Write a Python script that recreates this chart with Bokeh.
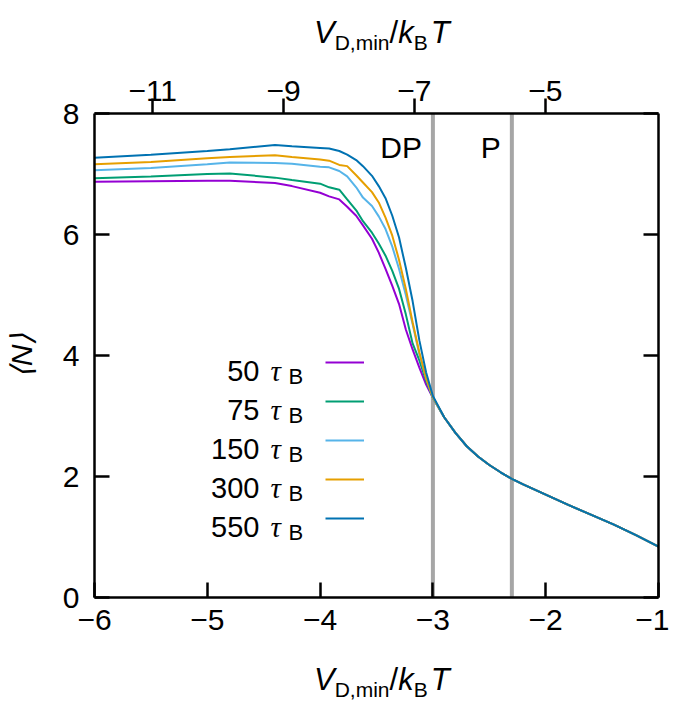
from bokeh.plotting import figure
from bokeh.models import (Range1d, LinearAxis, FixedTicker, Span, Label, Legend,
                          LegendItem, CustomJSTickFormatter, Div)
from bokeh.layouts import column
from bokeh.embed import file_html
from bokeh.resources import INLINE

# ---------------- data ----------------
x_head = [-6.0, -5.5, -5.0, -4.8, -4.4, -4.25, -4.0, -3.92, -3.83, -3.76, -3.68,
          -3.62, -3.54, -3.48, -3.42, -3.36, -3.30, -3.24, -3.18, -3.12, -3.06, -3.0]
n_050 = [6.87, 6.88, 6.89, 6.89, 6.85, 6.80, 6.69, 6.63, 6.58, 6.46, 6.31,
         6.15, 5.93, 5.70, 5.43, 5.15, 4.85, 4.43, 4.10, 3.80, 3.52, 3.30]
n_075 = [6.93, 6.96, 7.00, 7.01, 6.94, 6.90, 6.84, 6.78, 6.74, 6.58, 6.40,
         6.22, 6.03, 5.85, 5.65, 5.40, 5.10, 4.68, 4.20, 3.92, 3.58, 3.30]
n_150 = [7.06, 7.10, 7.16, 7.19, 7.18, 7.17, 7.12, 7.11, 7.05, 6.96, 6.78,
         6.61, 6.47, 6.30, 6.09, 5.80, 5.43, 5.00, 4.52, 4.02, 3.62, 3.30]
n_300 = [7.16, 7.20, 7.26, 7.28, 7.31, 7.28, 7.24, 7.22, 7.15, 7.13, 6.98,
         6.86, 6.70, 6.53, 6.28, 5.98, 5.58, 5.10, 4.55, 4.05, 3.62, 3.31]
n_550 = [7.27, 7.32, 7.38, 7.41, 7.48, 7.46, 7.43, 7.42, 7.38, 7.32, 7.23,
         7.13, 6.97, 6.80, 6.60, 6.31, 5.95, 5.45, 4.90, 4.25, 3.72, 3.33]
# common tail where all curves coincide
x_tail = [-2.9, -2.8, -2.7, -2.6, -2.5, -2.4, -2.3, -2.2, -2.0, -1.8, -1.6, -1.4, -1.2, -1.0]
n_tail = [2.98, 2.72, 2.50, 2.33, 2.19, 2.07, 1.96, 1.87, 1.70, 1.53, 1.37, 1.21, 1.03, 0.84]

series_values = [n_050, n_075, n_150, n_300, n_550]
series_labels = ["50", "75", "150", "300", "550"]
series_colors = ["#9400d3", "#009e73", "#56b4e9", "#e69f00", "#0072b2"]

bottom_ticks = [-6, -5, -4, -3, -2, -1]
top_ticks = [-11, -9, -7, -5]
y_ticks = [0, 2, 4, 6, 8]
top_range = (-11.89, -3.27)
phase_bounds = [-3.0, -2.3]
phase_names = ["DP", "P"]
phase_label_y = 7.44

FONT = "Liberation Sans"
TICK_FS = 30
LEG_FS = 29

# ---------------- figure ----------------
p = figure(width=669, height=587, x_range=Range1d(-6, -1), y_range=Range1d(0, 8),
           output_backend="svg", toolbar_location=None,
           x_axis_location=None, y_axis_location=None,
           min_border_left=94, min_border_right=11, min_border_top=53, min_border_bottom=50)
p.outline_line_color = None
p.grid.visible = False
p.background_fill_color = "white"
p.border_fill_color = "white"

fmt = CustomJSTickFormatter(code="return (tick < 0 ? '\\u2212' : '') + Math.abs(tick).toString();")
blank = CustomJSTickFormatter(code="return '';")


def style_axis(ax, tin=15, tout=0, standoff=10):
    ax.axis_line_width = 2.5
    ax.axis_line_color = "black"
    ax.major_tick_line_width = 2.5
    ax.major_tick_line_color = "black"
    ax.major_tick_in = tin
    ax.major_tick_out = tout
    ax.minor_tick_in = 0
    ax.minor_tick_out = 0
    ax.minor_tick_line_color = None
    ax.major_label_text_font = FONT
    ax.major_label_text_font_size = f"{TICK_FS}px"
    ax.major_label_text_color = "black"
    ax.major_label_standoff = standoff


ax_b = LinearAxis(ticker=FixedTicker(ticks=bottom_ticks), formatter=fmt)
style_axis(ax_b, standoff=12)
p.add_layout(ax_b, "below")

ax_l = LinearAxis(ticker=FixedTicker(ticks=y_ticks), formatter=fmt,
                  axis_label="⟨N⟩")
style_axis(ax_l, standoff=15)
ax_l.axis_label_text_font = FONT
ax_l.axis_label_text_font_size = "30px"
ax_l.axis_label_text_font_style = "italic"
ax_l.axis_label_text_color = "black"
ax_l.axis_label_standoff = 22
p.add_layout(ax_l, "left")

ax_r = LinearAxis(ticker=FixedTicker(ticks=y_ticks), formatter=blank)
style_axis(ax_r, standoff=0)
p.add_layout(ax_r, "right")

p.extra_x_ranges = {"top": Range1d(*top_range)}
ax_t = LinearAxis(x_range_name="top", ticker=FixedTicker(ticks=top_ticks), formatter=fmt)
style_axis(ax_t, tin=0, tout=15, standoff=-2)
p.add_layout(ax_t, "above")

# phase boundaries
for loc, name in zip(phase_bounds, phase_names):
    p.add_layout(Span(location=loc, dimension="height", line_color="#a6a6a6",
                      line_width=4, level="underlay"))
    p.add_layout(Label(x=loc, y=phase_label_y, x_offset=-11, text=name,
                       text_align="right", text_baseline="middle",
                       text_font=FONT, text_font_size=f"{TICK_FS}px", text_color="black"))

# curves
renderers = []
for vals, col in zip(series_values, series_colors):
    r = p.line(x_head + x_tail, vals + n_tail, line_color=col, line_width=2)
    renderers.append(r)

# legend sample lines (library legend; label text drawn separately)
ROW0, PITCH = 370, 39
leg = Legend(items=[LegendItem(label=" ", renderers=[r]) for r in renderers],
             location=(231, 605 - (ROW0 - 10 + 5 * 20 + 4 * 19)), orientation="vertical",
             glyph_width=39, glyph_height=20, label_height=20, label_width=0, spacing=19,
             padding=0, margin=0, border_line_color=None, background_fill_alpha=0,
             label_text_font_size="1px", label_standoff=0)
p.add_layout(leg, "center")


def txt(text, x, y, size, style="normal", align="left", font=FONT):
    p.add_layout(Label(x=x, y=y, x_units="screen", y_units="screen", text=text,
                       text_font=font, text_font_size=f"{size}px", text_font_style=style,
                       text_align=align, text_baseline="alphabetic", text_color="black"))


for i, lab in enumerate(series_labels):
    row = ROW0 + PITCH * i            # page y of the sample line
    yb = 605 - (row + 8)
    txt(lab, 165, yb, LEG_FS, align="right")
    txt("τ", 176, yb, LEG_FS, style="italic", font="Liberation Serif")
    txt("B", 194, 605 - (row + 14), 22)


def title_div(height, pad_top):
    html = ('<div style="padding-left:314px;padding-top:%dpx;font-family:\'Liberation Sans\';'
            'font-size:31px;line-height:31px;white-space:nowrap;color:black;">'
            '<i>V</i><span style="font-size:21px;position:relative;top:7px;">D,min</span>/'
            '<i>k</i><span style="font-size:21px;position:relative;top:7px;">B</span>'
            '<i style="margin-left:3px;">T</i></div>') % pad_top
    return Div(text=html, width=669, height=height, margin=0)


top_title = title_div(60, 17)
bottom_title = title_div(48, 17)

layout = column(top_title, p, bottom_title, spacing=0)

open("out.html", "w").write(file_html(layout, INLINE))
